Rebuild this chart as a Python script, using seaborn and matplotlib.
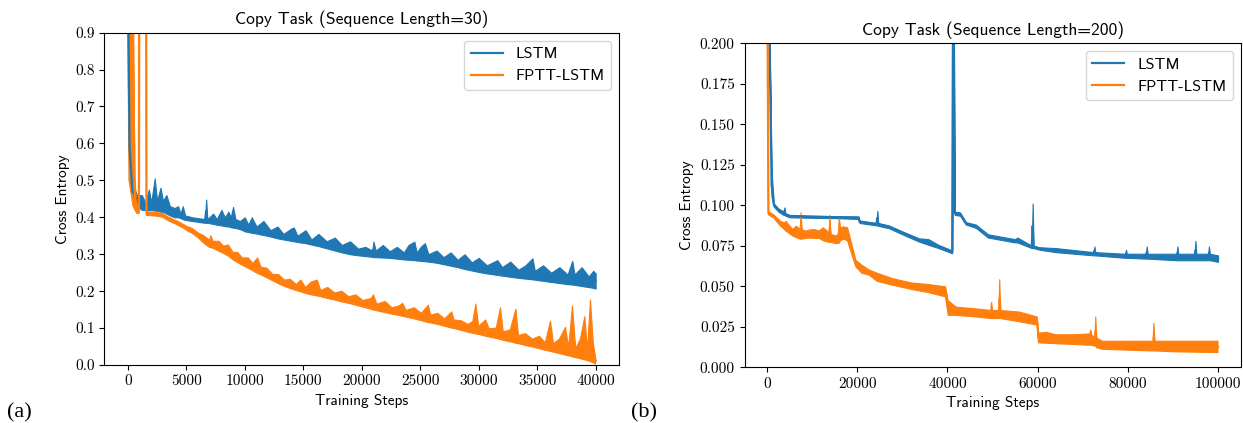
import numpy as np
import pandas as pd
import matplotlib
matplotlib.use("Agg")
import matplotlib.pyplot as plt
import seaborn as sns

# ---------------- data ----------------
models = ["LSTM", "FPTT-LSTM"]
colors = ["#1f77b4", "#ff7f0e"]

# Panel (a): sequence length 30 -- the noisy curve is given as a low / high envelope
lstm30_steps = [0, 150, 400, 800, 1200, 1500, 1800, 2000, 2300, 2500, 2800, 3000, 3300, 3600,
                4000, 4300, 4500, 4700, 4900, 5500, 6600, 6700, 6800, 7300, 7600, 8000, 8300,
                8600, 8800, 9000, 9200, 9600, 10000, 10300, 10600, 11000, 11600, 12200, 12800,
                13300, 14000, 14200, 14500, 15200, 15700, 16300, 17000, 17700, 18300, 19000,
                19700, 20300, 20900, 21000, 21200, 21800, 22400, 23000, 23600, 24000, 24500,
                24700, 25100, 25400, 25700, 26400, 27000, 27600, 28200, 28800, 29400, 30000,
                30700, 31600, 32000, 32700, 33400, 34000, 34600, 34800, 35500, 36200, 36900,
                37600, 38000, 38200, 38800, 39400, 39800, 40000]
lstm30_low = [1.00, 0.56, 0.45, 0.43, 0.42, 0.42, 0.42, 0.42, 0.418, 0.418, 0.415, 0.415, 0.41, 0.405,
              0.40, 0.40, 0.398, 0.395, 0.393, 0.39, 0.385, 0.385, 0.385, 0.382, 0.38, 0.378, 0.376,
              0.375, 0.373, 0.372, 0.371, 0.368, 0.362, 0.36, 0.358, 0.356, 0.352, 0.348, 0.343,
              0.34, 0.336, 0.335, 0.333, 0.33, 0.326, 0.322, 0.316, 0.31, 0.305, 0.30,
              0.297, 0.295, 0.293, 0.292, 0.292, 0.291, 0.29, 0.288, 0.286, 0.285, 0.284,
              0.283, 0.282, 0.281, 0.28, 0.277, 0.273, 0.269, 0.265, 0.26, 0.256, 0.252,
              0.248, 0.244, 0.242, 0.239, 0.236, 0.234, 0.232, 0.231, 0.228, 0.225, 0.222,
              0.219, 0.218, 0.217, 0.214, 0.211, 0.209, 0.207]
lstm30_high = [1.20, 0.62, 0.49, 0.46, 0.46, 0.44, 0.475, 0.44, 0.505, 0.445, 0.48, 0.445, 0.46, 0.43,
               0.425, 0.43, 0.41, 0.43, 0.405, 0.40, 0.395, 0.448, 0.395, 0.41, 0.395, 0.42, 0.40,
               0.415, 0.40, 0.428, 0.395, 0.39, 0.40, 0.38, 0.40, 0.375, 0.39, 0.365, 0.375,
               0.355, 0.37, 0.372, 0.35, 0.365, 0.34, 0.355, 0.335, 0.345, 0.325, 0.335,
               0.315, 0.32, 0.31, 0.334, 0.31, 0.325, 0.308, 0.32, 0.305, 0.325, 0.334,
               0.305, 0.322, 0.33, 0.30, 0.31, 0.292, 0.305, 0.285, 0.30, 0.278, 0.29,
               0.27, 0.284, 0.265, 0.28, 0.258, 0.27, 0.289, 0.255, 0.27, 0.25, 0.265,
               0.245, 0.282, 0.245, 0.265, 0.24, 0.255, 0.248]

fptt30_steps = [0, 100, 450, 600, 800, 950, 1000, 1550, 1600, 2500, 3000, 3500, 4200, 4800, 5000,
                5500, 6000, 6500, 7000, 7100, 7300, 7800, 8200, 8600, 9000, 9400, 9800, 10300,
                10700, 11100, 11400, 11900, 12400, 12900, 13400, 13900, 14400, 14800, 15200,
                15700, 16200, 16500, 17100, 17700, 18300, 18900, 19500, 20100, 20800, 21000,
                21300, 22000, 22600, 23200, 23500, 23800, 24500, 25100, 25700, 25900, 26500,
                27100, 27700, 27900, 28500, 29100, 29500, 29760, 30000, 30600, 30900, 31500,
                31870, 32100, 32700, 33180, 33400, 34000, 34600, 35200, 35700, 36140, 36400,
                36900, 37420, 37700, 38020, 38300, 38700, 39080, 39300, 39560, 39800, 40000]
fptt30_low = [0.90, 0.50, 0.43, 0.42, 0.41, 0.41, 1.50, 1.50, 0.405, 0.403, 0.40, 0.39, 0.38, 0.37, 0.365,
              0.357, 0.345, 0.33, 0.318, 0.318, 0.316, 0.308, 0.302, 0.295, 0.285, 0.277, 0.27, 0.262,
              0.255, 0.248, 0.244, 0.236, 0.228, 0.22, 0.213, 0.207, 0.202, 0.198, 0.194,
              0.19, 0.187, 0.185, 0.18, 0.176, 0.171, 0.167, 0.162, 0.157, 0.151, 0.149,
              0.147, 0.142, 0.138, 0.134, 0.132, 0.13, 0.125, 0.12, 0.115, 0.114, 0.11,
              0.105, 0.10, 0.099, 0.094, 0.089, 0.086, 0.084, 0.083, 0.078, 0.076, 0.072,
              0.069, 0.067, 0.063, 0.059, 0.058, 0.053, 0.049, 0.044, 0.04, 0.037, 0.035,
              0.031, 0.027, 0.025, 0.022, 0.02, 0.017, 0.014, 0.012, 0.009, 0.006, 0.003]
fptt30_high = [1.50, 1.50, 1.20, 0.50, 0.43, 0.42, 1.50, 1.50, 0.415, 0.413, 0.41, 0.40, 0.39, 0.38, 0.376,
               0.37, 0.358, 0.35, 0.338, 0.35, 0.335, 0.335, 0.322, 0.325, 0.305, 0.305, 0.29, 0.29,
               0.275, 0.29, 0.265, 0.262, 0.245, 0.245, 0.23, 0.232, 0.218, 0.23, 0.21,
               0.225, 0.23, 0.202, 0.21, 0.195, 0.20, 0.185, 0.19, 0.175, 0.18, 0.19,
               0.165, 0.172, 0.155, 0.16, 0.167, 0.148, 0.155, 0.14, 0.162, 0.135, 0.14,
               0.125, 0.144, 0.122, 0.12, 0.11, 0.118, 0.165, 0.105, 0.122, 0.098, 0.10,
               0.155, 0.09, 0.095, 0.151, 0.08, 0.085, 0.07, 0.078, 0.06, 0.119, 0.058,
               0.07, 0.102, 0.048, 0.16, 0.045, 0.07, 0.131, 0.04, 0.176, 0.06, 0.02]

# Panel (b): sequence length 200
lstm200_steps = [0, 700, 1000, 1500, 2500, 3650, 3850, 4050, 5000, 10000, 15000, 20300, 20500,
                 24250, 24450, 24650, 27000, 30000, 33700, 35800, 38000, 41050, 41300, 41600,
                 42800, 44100, 46300, 49000, 55000, 55500, 58700, 58900, 59100, 60400, 64000,
                 72400, 72600, 72800, 79400, 79600, 79800, 84000, 84200, 84400, 90800, 91000,
                 91200, 94800, 95000, 95200, 97800, 98000, 98200, 100000]
lstm200_low = [0.25, 0.170, 0.105, 0.099, 0.096, 0.094, 0.094, 0.0935, 0.0925, 0.0922, 0.092, 0.0915, 0.089,
               0.0875, 0.0875, 0.0872, 0.0858, 0.082, 0.0775, 0.0755, 0.0735, 0.0703, 0.25, 0.094,
               0.0935, 0.088, 0.086, 0.080, 0.077, 0.077, 0.0735, 0.0735, 0.0735, 0.0725, 0.071,
               0.069, 0.069, 0.069, 0.0675, 0.0675, 0.0675, 0.067, 0.067, 0.067, 0.066, 0.066,
               0.066, 0.066, 0.066, 0.066, 0.066, 0.066, 0.066, 0.065]
lstm200_high = [0.30, 0.178, 0.12, 0.101, 0.098, 0.096, 0.0986, 0.095, 0.094, 0.0935, 0.0932, 0.093, 0.0905,
                0.089, 0.0965, 0.089, 0.0875, 0.0838, 0.0795, 0.079, 0.0755, 0.072, 0.30, 0.096,
                0.0955, 0.0895, 0.088, 0.082, 0.079, 0.080, 0.075, 0.101, 0.075, 0.074, 0.0735,
                0.071, 0.0745, 0.071, 0.070, 0.0725, 0.070, 0.070, 0.0745, 0.070, 0.070, 0.0745,
                0.070, 0.070, 0.078, 0.070, 0.070, 0.0745, 0.070, 0.069]

fptt200_steps = [0, 300, 1500, 3000, 3850, 4200, 5680, 6500, 7340, 7540, 7740, 8500, 9380, 10500,
                 11500, 12500, 13740, 13940, 14140, 15270, 15800, 16000, 16300, 17000, 17840,
                 18400, 19690, 21000, 22640, 24400, 27790, 32000, 35800, 39590, 40160, 42000,
                 46300, 49600, 49800, 50000, 51400, 51600, 51800, 56000, 59900, 60200, 62000,
                 64000, 68000, 71600, 71800, 72000, 72700, 72900, 73100, 74400, 85600, 85800,
                 86000, 90200, 100000]
fptt200_low = [0.25, 0.094, 0.092, 0.087, 0.085, 0.084, 0.081, 0.080, 0.079, 0.079, 0.079, 0.0795, 0.0797, 0.0795,
               0.0795, 0.078, 0.077, 0.077, 0.077, 0.0763, 0.0765, 0.0765, 0.078, 0.079, 0.078,
               0.073, 0.062, 0.058, 0.0568, 0.053, 0.0506, 0.048, 0.046, 0.0434, 0.032, 0.032,
               0.031, 0.030, 0.030, 0.030, 0.030, 0.030, 0.030, 0.028, 0.026, 0.015, 0.0148,
               0.0145, 0.014, 0.0135, 0.0135, 0.0135, 0.013, 0.013, 0.012, 0.011, 0.010, 0.010,
               0.010, 0.0095, 0.009]
fptt200_high = [0.30, 0.096, 0.094, 0.090, 0.089, 0.090, 0.085, 0.087, 0.085, 0.0953, 0.085, 0.084, 0.0846, 0.085,
                0.084, 0.086, 0.083, 0.0938, 0.082, 0.081, 0.082, 0.0924, 0.086, 0.0866, 0.086,
                0.080, 0.066, 0.063, 0.060, 0.058, 0.0547, 0.052, 0.051, 0.0496, 0.041, 0.037,
                0.036, 0.035, 0.040, 0.035, 0.035, 0.054, 0.035, 0.034, 0.031, 0.021, 0.0215,
                0.020, 0.020, 0.0205, 0.023, 0.020, 0.018, 0.031, 0.018, 0.016, 0.016, 0.027,
                0.016, 0.016, 0.016]

yticks30 = [0.0, 0.1, 0.2, 0.3, 0.4, 0.5, 0.6, 0.7, 0.8, 0.9]
xticks30 = [0, 5000, 10000, 15000, 20000, 25000, 30000, 35000, 40000]
yticks200 = [0.000, 0.025, 0.050, 0.075, 0.100, 0.125, 0.150, 0.175, 0.200]
xticks200 = [0, 20000, 40000, 60000, 80000, 100000]


def band_frame(steps, low, high, model):
    return pd.DataFrame({"step": list(steps) + list(steps),
                         "value": list(low) + list(high),
                         "model": [model] * (2 * len(steps))})


df30 = pd.concat([band_frame(lstm30_steps, lstm30_low, lstm30_high, models[0]),
                  band_frame(fptt30_steps, fptt30_low, fptt30_high, models[1])])
df200 = pd.concat([band_frame(lstm200_steps, lstm200_low, lstm200_high, models[0]),
                   band_frame(fptt200_steps, fptt200_low, fptt200_high, models[1])])

# ---------------- figure ----------------
sans = ["cmss10", "DejaVu Sans"]
serif = ["cmr10", "DejaVu Serif"]
plt.rcParams["axes.formatter.use_mathtext"] = True

fig = plt.figure(figsize=(12.43, 4.23), dpi=100)
ax1 = fig.add_axes([0.084, 0.137, 0.414, 0.786])
ax2 = fig.add_axes([0.599, 0.132, 0.399, 0.766])

panels = [
    (ax1, df30, "Copy Task (Sequence Length=30)", (0, 0.9), yticks30, xticks30, "%.1f"),
    (ax2, df200, "Copy Task (Sequence Length=200)", (0, 0.2), yticks200, xticks200, "%.3f"),
]

for ax, df, title, ylim, yt, xt, fmt in panels:
    sns.lineplot(data=df, x="step", y="value", hue="model", hue_order=models,
                 palette=colors, estimator="mean", errorbar=("pi", 100),
                 err_kws={"alpha": 1.0, "linewidth": 0.8}, linewidth=1.6, ax=ax)
    ax.set_ylim(*ylim)
    ax.set_yticks(yt)
    ax.set_yticklabels([fmt % v for v in yt], family=serif, fontsize=11)
    ax.set_xticks(xt)
    ax.set_xticklabels([str(v) for v in xt], family=serif, fontsize=11)
    ax.set_xlabel("Training Steps", family=sans, fontsize=11)
    ax.set_ylabel("Cross Entropy", family=sans, fontsize=11)
    ax.set_title(title, family=sans, fontsize=12.6)
    ax.legend(loc="upper right", prop={"family": sans, "size": 11.5}, title=None)

fig.text(0.006, 0.012, "(a)", family=["Liberation Serif"], fontsize=16)
fig.text(0.508, 0.012, "(b)", family=["Liberation Serif"], fontsize=16)

fig.savefig("out.png", dpi=100)
